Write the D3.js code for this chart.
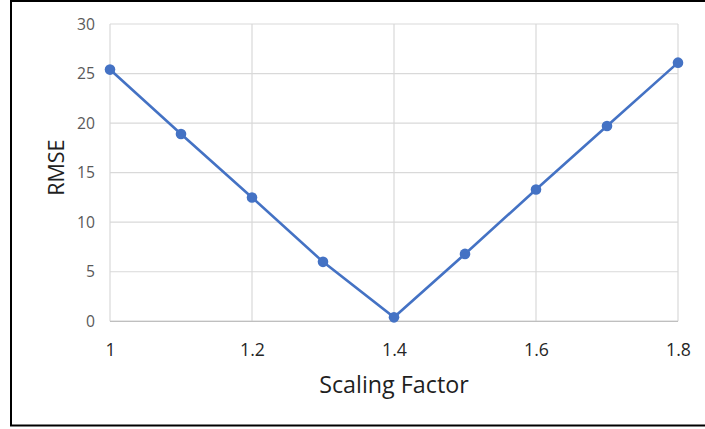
<!DOCTYPE html>
<html>
<head>
<meta charset="utf-8">
<script src="https://cdn.jsdelivr.net/npm/d3@7"></script>
<style>
  html, body { margin: 0; padding: 0; background: #fff; }
  svg { display: block; }
</style>
</head>
<body>
<svg id="chart" width="705" height="429"></svg>
<script>
// RMSE measured at each scaling factor
const scalingFactors = [1.0, 1.1, 1.2, 1.3, 1.4, 1.5, 1.6, 1.7, 1.8];
const rmseValues = [25.4, 18.9, 12.5, 6.0, 0.4, 6.8, 13.3, 19.7, 26.1];
const xTicks = [1.0, 1.2, 1.4, 1.6, 1.8];
const yTicks = [0, 5, 10, 15, 20, 25, 30];

const svg = d3.select("#chart");
const font = "'Open Sans', sans-serif";

// outer frame
svg.append("rect")
  .attr("x", 11).attr("y", 1)
  .attr("width", 705).attr("height", 424.5)
  .attr("fill", "none").attr("stroke", "#000").attr("stroke-width", 2);

const x = d3.scaleLinear().domain([1.0, 1.8]).range([110, 678]);
const y = d3.scaleLinear().domain([0, 30]).range([321.3, 24]);

// gridlines
svg.append("g").selectAll("line").data(yTicks).join("line")
  .attr("x1", x.range()[0]).attr("x2", x.range()[1])
  .attr("y1", d => y(d)).attr("y2", d => y(d))
  .attr("stroke", "#d9d9d9").attr("stroke-width", 1.2);
svg.append("g").selectAll("line").data(xTicks).join("line")
  .attr("x1", d => x(d)).attr("x2", d => x(d))
  .attr("y1", y(0)).attr("y2", y(30))
  .attr("stroke", "#d9d9d9").attr("stroke-width", 1.2);

// x axis baseline
svg.append("line")
  .attr("x1", x.range()[0]).attr("x2", x.range()[1])
  .attr("y1", y(0)).attr("y2", y(0))
  .attr("stroke", "#bfbfbf").attr("stroke-width", 1.2);

// y tick labels
const yAxis = d3.axisLeft(y).tickValues(yTicks).tickSize(0).tickPadding(15);
svg.append("g").attr("transform", `translate(${x.range()[0]},0)`)
  .call(yAxis)
  .call(g => g.select(".domain").remove())
  .call(g => g.selectAll("text")
    .attr("fill", "#595959").style("font-family", font).style("font-size", "15.7px"));

// x tick labels
const xAxis = d3.axisBottom(x).tickValues(xTicks).tickSize(0).tickPadding(22)
  .tickFormat(d => String(+d.toFixed(1)));
svg.append("g").attr("transform", `translate(0,${y(0)})`)
  .call(xAxis)
  .call(g => g.select(".domain").remove())
  .call(g => g.selectAll("text")
    .attr("fill", "#262626").style("font-family", font).style("font-size", "17.7px"));

// axis titles
svg.append("text")
  .attr("x", (x.range()[0] + x.range()[1]) / 2).attr("y", 393)
  .attr("text-anchor", "middle")
  .attr("fill", "#1f1f1f").style("font-family", font).style("font-size", "23.3px")
  .text("Scaling Factor");

svg.append("text")
  .attr("transform", `translate(63.5,${(y(0) + y(30)) / 2 - 5}) rotate(-90)`)
  .attr("text-anchor", "middle")
  .attr("fill", "#1f1f1f").style("font-family", font).style("font-size", "21.5px")
  .text("RMSE");

// series line and markers
const pts = scalingFactors.map((s, i) => [s, rmseValues[i]]);
svg.append("path").datum(pts)
  .attr("fill", "none").attr("stroke", "#4472c4").attr("stroke-width", 2.6)
  .attr("d", d3.line().x(d => x(d[0])).y(d => y(d[1])));

svg.append("g").selectAll("circle").data(pts).join("circle")
  .attr("cx", d => x(d[0])).attr("cy", d => y(d[1])).attr("r", 5.3)
  .attr("fill", "#4472c4");
</script>
</body>
</html>
